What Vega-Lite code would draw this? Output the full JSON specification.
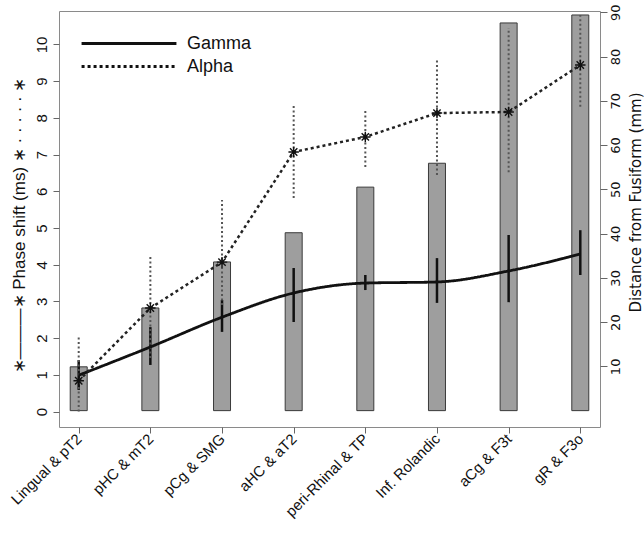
{
  "$schema": "https://vega.github.io/schema/vega-lite/v6.json",
  "width": 541,
  "height": 416,
  "autosize": {"type": "none"},
  "padding": {"left": 59, "top": 11, "right": 44, "bottom": 108},
  "config": {
    "font": "Liberation Sans",
    "view": {"stroke": "#8a8a8a", "strokeWidth": 1},
    "axis": {"grid": false, "domain": false, "tickColor": "#666666", "labelColor": "#111111", "titleColor": "#111111", "titleFontWeight": "normal"}
  },
  "data": {
    "values": [
      {"region": "Lingual & pT2", "dist": 9.9, "gamma": 0.99, "gLo": 0.59, "gHi": 1.4, "alpha": 0.84, "aLo": 0.0, "aHi": 2.03},
      {"region": "pHC & mT2", "dist": 23.2, "gamma": 1.76, "gLo": 1.27, "gHi": 2.3, "alpha": 2.82, "aLo": 1.46, "aHi": 4.26},
      {"region": "pCg & SMG", "dist": 33.6, "gamma": 2.57, "gLo": 2.17, "gHi": 3.04, "alpha": 4.07, "aLo": 2.9, "aHi": 5.76},
      {"region": "aHC & aT2", "dist": 40.2, "gamma": 3.23, "gLo": 2.44, "gHi": 3.91, "alpha": 7.07, "aLo": 5.82, "aHi": 8.35},
      {"region": "peri-Rhinal & TP", "dist": 50.5, "gamma": 3.5, "gLo": 3.31, "gHi": 3.72, "alpha": 7.48, "aLo": 6.66, "aHi": 8.21},
      {"region": "Inf. Rolandic", "dist": 55.9, "gamma": 3.53, "gLo": 2.96, "gHi": 4.18, "alpha": 8.13, "aLo": 6.44, "aHi": 9.63},
      {"region": "aCg & F3t", "dist": 87.6, "gamma": 3.83, "gLo": 2.98, "gHi": 4.81, "alpha": 8.16, "aLo": 6.52, "aHi": 10.45},
      {"region": "gR & F3o", "dist": 89.4, "gamma": 4.29, "gLo": 3.72, "gHi": 4.94, "alpha": 9.44, "aLo": 8.3, "aHi": 10.8}
    ]
  },
  "encoding": {
    "x": {
      "field": "region", "type": "nominal", "sort": null,
      "scale": {"type": "point", "padding": 0.275},
      "axis": {"title": null, "labelAngle": -45, "labelAlign": "right", "labelBaseline": "middle", "labelFontSize": 15, "tickSize": 6, "labelPadding": 3}
    }
  },
  "layer": [
    {
      "mark": {"type": "bar", "size": 17, "fill": "#9e9e9e", "stroke": "#3a3a3a", "strokeWidth": 1},
      "encoding": {
        "y": {
          "field": "dist", "type": "quantitative",
          "scale": {"domain": [-3.7, 90.3], "nice": false, "zero": false},
          "axis": {"orient": "right", "values": [10, 20, 30, 40, 50, 60, 70, 80, 90], "labelAngle": -90, "labelAlign": "center", "labelBaseline": "top", "labelFont": "DejaVu Sans", "labelFontSize": 13, "tickSize": 7, "labelPadding": 2, "title": "Distance from Fusiform (mm)", "titleFont": "DejaVu Sans", "titleFontSize": 15, "titleAngle": 270, "titleAlign": "center", "titleBaseline": "middle", "titleX": 35, "titleY": 191}
        }
      }
    },
    {
      "layer": [
        {
          "mark": {"type": "rule", "stroke": "#111111", "strokeWidth": 2.5},
          "encoding": {
            "y": {"field": "gLo", "type": "quantitative", "scale": {"domain": [-0.42, 10.91], "nice": false, "zero": false},
              "axis": {"orient": "left", "values": [0, 1, 2, 3, 4, 5, 6, 7, 8, 9, 10], "labelAngle": -90, "labelAlign": "center", "labelBaseline": "bottom", "labelFontSize": 15, "tickSize": 6, "labelPadding": 4, "title": "∗———∗ Phase shift (ms) ∗ · · · · · ∗", "titleFontSize": 17, "titlePadding": 6, "titleY": 214}},
            "y2": {"field": "gHi"}
          }
        },
        {
          "mark": {"type": "rule", "stroke": "#555555", "strokeWidth": 2, "strokeDash": [2, 2.5]},
          "encoding": {
            "y": {"field": "aLo", "type": "quantitative", "scale": {"domain": [-0.42, 10.91], "nice": false, "zero": false},
              "axis": {"orient": "left", "values": [0, 1, 2, 3, 4, 5, 6, 7, 8, 9, 10], "labelAngle": -90, "labelAlign": "center", "labelBaseline": "bottom", "labelFontSize": 15, "tickSize": 6, "labelPadding": 4, "title": "∗———∗ Phase shift (ms) ∗ · · · · · ∗", "titleFontSize": 17, "titlePadding": 6, "titleY": 214}},
            "y2": {"field": "aHi"}
          }
        },
        {
          "mark": {"type": "line", "interpolate": "monotone", "color": "#111111", "strokeWidth": 2.8},
          "encoding": {
            "y": {"field": "gamma", "type": "quantitative", "scale": {"domain": [-0.42, 10.91], "nice": false, "zero": false},
              "axis": {"orient": "left", "values": [0, 1, 2, 3, 4, 5, 6, 7, 8, 9, 10], "labelAngle": -90, "labelAlign": "center", "labelBaseline": "bottom", "labelFontSize": 15, "tickSize": 6, "labelPadding": 4, "title": "∗———∗ Phase shift (ms) ∗ · · · · · ∗", "titleFontSize": 17, "titlePadding": 6, "titleY": 214}},
            "strokeDash": {"datum": "Gamma", "type": "nominal",
              "scale": {"domain": ["Gamma", "Alpha"], "range": [[1, 0], [3, 3]]},
              "legend": {"title": null, "orient": "top-left", "offset": 19, "padding": 2, "symbolType": "stroke", "symbolSize": 9000, "symbolStrokeWidth": 3, "symbolStrokeColor": "#111111", "clipHeight": 23, "labelFontSize": 18, "labelOffset": 9, "labelColor": "#111111", "rowPadding": 0}}
          }
        },
        {
          "mark": {"type": "line", "color": "#222222", "strokeWidth": 2.5},
          "encoding": {
            "y": {"field": "alpha", "type": "quantitative", "scale": {"domain": [-0.42, 10.91], "nice": false, "zero": false},
              "axis": {"orient": "left", "values": [0, 1, 2, 3, 4, 5, 6, 7, 8, 9, 10], "labelAngle": -90, "labelAlign": "center", "labelBaseline": "bottom", "labelFontSize": 15, "tickSize": 6, "labelPadding": 4, "title": "∗———∗ Phase shift (ms) ∗ · · · · · ∗", "titleFontSize": 17, "titlePadding": 6, "titleY": 214}},
            "strokeDash": {"datum": "Alpha", "type": "nominal",
              "scale": {"domain": ["Gamma", "Alpha"], "range": [[1, 0], [3, 3]]},
              "legend": {"title": null, "orient": "top-left", "offset": 19, "padding": 2, "symbolType": "stroke", "symbolSize": 9000, "symbolStrokeWidth": 3, "symbolStrokeColor": "#111111", "clipHeight": 23, "labelFontSize": 18, "labelOffset": 9, "labelColor": "#111111", "rowPadding": 0}}
          }
        },
        {
          "mark": {"type": "point", "filled": false, "stroke": "#111111", "strokeWidth": 1.4, "size": 110, "opacity": 1,
            "shape": "M0,-1L0,1M-1,0L1,0M-0.7,-0.7L0.7,0.7M-0.7,0.7L0.7,-0.7"},
          "encoding": {
            "y": {"field": "alpha", "type": "quantitative", "scale": {"domain": [-0.42, 10.91], "nice": false, "zero": false},
              "axis": {"orient": "left", "values": [0, 1, 2, 3, 4, 5, 6, 7, 8, 9, 10], "labelAngle": -90, "labelAlign": "center", "labelBaseline": "bottom", "labelFontSize": 15, "tickSize": 6, "labelPadding": 4, "title": "∗———∗ Phase shift (ms) ∗ · · · · · ∗", "titleFontSize": 17, "titlePadding": 6, "titleY": 214}}
          }
        }
      ]
    }
  ],
  "resolve": {"scale": {"y": "independent"}}
}
